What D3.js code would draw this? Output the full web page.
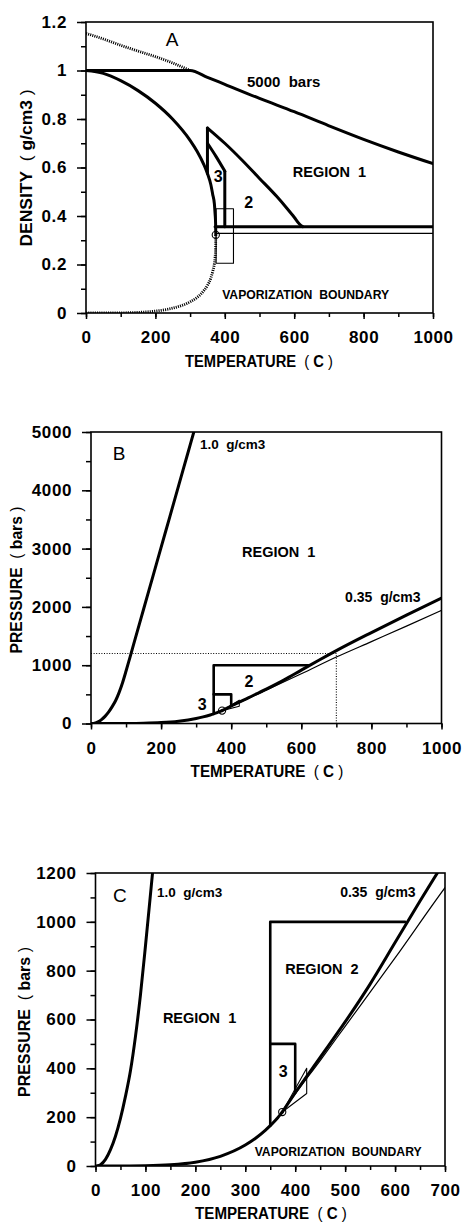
<!DOCTYPE html>
<html>
<head>
<meta charset="utf-8">
<script src="https://cdn.jsdelivr.net/npm/d3@7"></script>
<style>
  body { margin: 0; background: #fff; }
  text { font-family: "Liberation Sans", Arial, sans-serif; font-weight: bold; fill: #000; white-space: pre; }
</style>
</head>
<body>
<svg id="chart" width="463" height="1222"></svg>
<script>
// vaporization boundary of water (liquid / vapour branches)
const satT      = [0, 50, 100, 150, 200, 250, 300, 320, 340, 350, 360, 365, 370, 372, 373.5, 374];
const satLiqRho = [1.000, 0.988, 0.958, 0.917, 0.865, 0.799, 0.712, 0.667, 0.611, 0.575, 0.528, 0.49, 0.45, 0.41, 0.37, 0.322];
const satVapRho = [0.0, 0.0001, 0.0006, 0.0026, 0.0079, 0.020, 0.046, 0.064, 0.093, 0.114, 0.145, 0.17, 0.204, 0.23, 0.27, 0.322];
const satP      = [0, 0.12, 1.0, 4.8, 15.5, 39.7, 85.9, 112.9, 146.1, 165.3, 186.5, 198, 210.4, 215.5, 219.5, 220.6];
const critT = 374, critRho = 0.322, critP = 221;

// 5000 bars isobar (panel A)
const isoLowT   = [0, 50, 100, 150, 200, 250, 300];
const isoLowRho = [1.153, 1.13, 1.104, 1.08, 1.057, 1.031, 1.0];
const isoHiT    = [0, 300, 350, 400, 500, 600, 700, 800, 900, 1000];
const isoHiRho  = [1.0, 1.0, 0.972, 0.943, 0.885, 0.83, 0.772, 0.716, 0.664, 0.616];

// region 2 (1000 bars) and region 3 (500 bars) upper bounds in density space
const reg2T   = [350, 400, 450, 500, 550, 580, 600, 615, 625];
const reg2Rho = [0.763, 0.70, 0.63, 0.555, 0.48, 0.43, 0.395, 0.367, 0.356];
const reg3T   = [350, 375, 400];
const reg3Rho = [0.70, 0.645, 0.585];
const rhoThick = 0.356, rhoThin = 0.328;
const boxT = [375, 425], boxRho = [0.205, 0.43];

// isochores in P-T space
const iso10T  = [4, 10, 20, 30, 40, 50, 60, 70, 80, 90, 100, 110, 125, 150, 175, 200, 225, 250, 275, 300];
const iso10P  = [0, 5, 27, 67, 122, 195, 285, 390, 530, 700, 900, 1110, 1430, 1960, 2490, 3020, 3550, 4080, 4610, 5140];
const iso35T  = [374, 400, 450, 500, 550, 600, 650, 700, 800, 900, 1000];
const iso35P  = [221, 300, 445, 590, 745, 915, 1085, 1250, 1560, 1860, 2150];
const isoCrT  = [374, 400, 450, 500, 600, 700, 800, 900, 1000];
const isoCrP  = [221, 295, 432, 572, 852, 1140, 1405, 1670, 1940];
const reg2P = 1000, reg2Tmin = 350, reg2Tmax = 620;
const reg3P = 500, reg3Tmax = 400, reg3Pbot = 300;
const quadT = [375, 423, 423, 374];
const quadP = [224, 400, 297, 221];
const guideT = 700, guideP = 1200;

// ticks
const tempTicks1000 = [0, 200, 400, 600, 800, 1000];
const tempLabels1000 = ["0", "200", "400", "600", "800", "1000"];
const tempMinor1000 = d3.range(0, 1001, 100);
const rhoTicks = [0, 0.2, 0.4, 0.6, 0.8, 1, 1.2];
const rhoLabels = ["0", "0.2", "0.4", "0.6", "0.8", "1", "1.2"];
const rhoMinor = d3.range(0, 13).map(i => i / 10);
const pTicksB = [0, 1000, 2000, 3000, 4000, 5000];
const pLabelsB = ["0", "1000", "2000", "3000", "4000", "5000"];
const pMinorB = d3.range(0, 5001, 500);
const tempTicks700 = [0, 100, 200, 300, 400, 500, 600, 700];
const tempLabels700 = ["0", "100", "200", "300", "400", "500", "600", "700"];
const tempMinor700 = d3.range(0, 701, 50);
const pTicksC = [0, 200, 400, 600, 800, 1000, 1200];
const pLabelsC = ["0", "200", "400", "600", "800", "1000", "1200"];
const pMinorC = d3.range(0, 1201, 100);

const zip = (a, b) => a.map((v, i) => [v, b[i]]);
const svg = d3.select("#chart");

// axis title squeezed to a given length (the original lettering is condensed)
function title(g, px, py, rotate, length, name, unit) {
  const t = g.append("text").attr("text-anchor", "middle").attr("font-size", 17);
  t.append("tspan").text(name);
  t.append("tspan").style("font-weight", "normal").text("  ( ");
  t.append("tspan").text(unit);
  t.append("tspan").style("font-weight", "normal").text(" )");
  const k = length / t.node().getComputedTextLength();
  t.attr("transform", `translate(${px},${py})${rotate ? " rotate(-90)" : ""} scale(${k},1)`);
}

function axes(g, x, y, o) {
  const [x0, x1] = x.range(), [y0, y1] = y.range();
  const font = a => a.attr("font-size", 17).attr("font-family", null)
    .call(s => s.selectAll("text").attr("letter-spacing", 0.6));
  const style = a => a.call(s => s.select(".domain").remove())
    .call(s => s.selectAll("line").attr("stroke-width", 1.5));

  g.append("g").attr("transform", `translate(0,${y0})`)
    .call(d3.axisBottom(x).tickValues(o.xMinor).tickSize(4).tickFormat(""))
    .call(style);
  g.append("g").attr("transform", `translate(0,${y0})`)
    .call(d3.axisBottom(x).tickValues(o.xTicks).tickSize(6).tickPadding(12)
      .tickFormat((d, i) => o.xLabels[i]))
    .call(style).call(font);
  g.append("g").attr("transform", `translate(${x0},0)`)
    .call(d3.axisLeft(y).tickValues(o.yMinor).tickSize(5).tickFormat(""))
    .call(style);
  g.append("g").attr("transform", `translate(${x0},0)`)
    .call(d3.axisLeft(y).tickValues(o.yTicks).tickSize(9).tickPadding(10)
      .tickFormat((d, i) => o.yLabels[i]))
    .call(style).call(font);

  g.append("rect").attr("x", x0).attr("y", y1).attr("width", x1 - x0).attr("height", y0 - y1)
    .attr("fill", "none").attr("stroke", "#000").attr("stroke-width", 1.6);

  title(g, o.xTitle[0], o.xTitle[1], false, o.xTitle[2], "TEMPERATURE", "C");
  title(g, o.yTitle[0], o.yTitle[1], true, o.yTitle[2], o.yName, o.yUnit);
}

function clipFor(id, x, y) {
  const [x0, x1] = x.range(), [y0, y1] = y.range();
  svg.append("clipPath").attr("id", id).append("rect")
    .attr("x", x0).attr("y", y1).attr("width", x1 - x0).attr("height", y0 - y1);
  return svg.append("g").attr("clip-path", `url(#${id})`);
}

function curve(g, x, y, pts, w, opts = {}) {
  const line = d3.line().x(d => x(d[0])).y(d => y(d[1]))
    .curve(opts.linear ? d3.curveLinear : d3.curveMonotoneX);
  return g.append("path").attr("d", line(pts)).attr("fill", "none")
    .attr("stroke", "#000").attr("stroke-width", w)
    .attr("stroke-linecap", opts.dash ? "butt" : "round")
    .attr("stroke-linejoin", "round")
    .attr("stroke-dasharray", opts.dash || null);
}

function label(g, px, py, txt, size, anchor = "start", weight = "bold") {
  g.append("text").attr("x", px).attr("y", py).attr("font-size", size)
    .attr("text-anchor", anchor).style("font-weight", weight).text(txt);
}

function critCircle(g, cx, cy) {
  g.append("circle").attr("cx", cx).attr("cy", cy).attr("r", 3.6)
    .attr("fill", "none").attr("stroke", "#000").attr("stroke-width", 1.1);
}

// ---------------- panel A : density vs temperature
{
  const x = d3.scaleLinear([0, 1000], [86, 433]);
  const y = d3.scaleLinear([0, 1.2], [313, 22]);
  const g = clipFor("clipA", x, y);

  curve(g, x, y, zip(isoLowT, isoLowRho), 2.8, { dash: "1.1,1.1" });
  curve(g, x, y, zip(satT, satVapRho), 2.8, { dash: "1.1,1.1" });
  curve(g, x, y, zip(isoHiT, isoHiRho), 3);
  curve(g, x, y, zip(satT, satLiqRho), 3);

  curve(g, x, y, zip(reg2T, reg2Rho), 3);
  curve(g, x, y, zip(reg3T, reg3Rho), 3);
  curve(g, x, y, [[350, satLiqRho[satT.indexOf(350)]], [350, reg2Rho[0]]], 3, { linear: true });
  curve(g, x, y, [[reg3T[2], reg3Rho[2]], [reg3T[2], rhoThick]], 3, { linear: true });
  curve(g, x, y, [[372, rhoThick], [1000, rhoThick]], 3, { linear: true });
  curve(g, x, y, [[critT, rhoThin], [1000, rhoThin]], 1.2, { linear: true });
  curve(g, x, y, [[boxT[0], boxRho[0]], [boxT[1], boxRho[0]], [boxT[1], boxRho[1]],
                  [boxT[0], boxRho[1]], [boxT[0], boxRho[0]]], 1.1, { linear: true });
  critCircle(g, x(critT), y(critRho));

  const t = svg.append("g");
  axes(t, x, y, {
    xTicks: tempTicks1000, xLabels: tempLabels1000, xMinor: tempMinor1000,
    yTicks: rhoTicks, yLabels: rhoLabels, yMinor: rhoMinor,
    xTitle: [259, 367, 148], yTitle: [31.5, 168, 157], yName: "DENSITY", yUnit: "g/cm3"
  });
  label(t, x(248), y(1.10), "A", 19, "middle", "normal");
  label(t, x(464), y(0.932), "5000  bars", 15);
  label(t, x(596), y(0.561), "REGION  1", 14.5);
  label(t, x(381), y(0.541), "3", 16, "middle");
  label(t, x(469), y(0.432), "2", 16, "middle");
  label(t, x(633), y(0.056), "VAPORIZATION  BOUNDARY", 12.2, "middle");
}

// ---------------- panel B : pressure vs temperature (0-1000 C)
{
  const x = d3.scaleLinear([0, 1000], [91, 441.5]);
  const y = d3.scaleLinear([0, 5000], [723.5, 432]);
  const g = clipFor("clipB", x, y);

  curve(g, x, y, [[0, guideP], [guideT, guideP], [guideT, 0]], 1.1, { linear: true, dash: "1,1.6" });
  curve(g, x, y, zip(iso10T, iso10P), 3);
  curve(g, x, y, zip(satT, satP), 3);
  curve(g, x, y, zip(iso35T, iso35P), 3);
  curve(g, x, y, zip(isoCrT, isoCrP), 1.2);
  curve(g, x, y, [[reg2Tmin, satP[satT.indexOf(350)]], [reg2Tmin, reg2P], [reg2Tmax, reg2P]], 2.6, { linear: true });
  curve(g, x, y, [[reg2Tmin, reg3P], [reg3Tmax, reg3P], [reg3Tmax, reg3Pbot]], 2.6, { linear: true });
  curve(g, x, y, zip(quadT, quadP), 1.1, { linear: true });
  critCircle(g, x(critT), y(critP));

  const t = svg.append("g");
  axes(t, x, y, {
    xTicks: tempTicks1000, xLabels: tempLabels1000, xMinor: tempMinor1000,
    yTicks: pTicksB, yLabels: pLabelsB, yMinor: pMinorB,
    xTitle: [267, 777, 153], yTitle: [22, 580, 147], yName: "PRESSURE", yUnit: "bars"
  });
  label(t, x(80), y(4520), "B", 19, "middle", "normal");
  label(t, x(311), y(4700), "1.0  g/cm3", 13.5);
  label(t, x(431), y(2860), "REGION  1", 14.5);
  label(t, x(725), y(2090), "0.35  g/cm3", 14);
  label(t, x(451), y(630), "2", 16, "middle");
  label(t, x(317), y(230), "3", 16, "middle");
}

// ---------------- panel C : pressure vs temperature (0-700 C)
{
  const x = d3.scaleLinear([0, 700], [95.5, 445]);
  const y = d3.scaleLinear([0, 1200], [1166, 873]);
  const g = clipFor("clipC", x, y);

  curve(g, x, y, zip(iso10T, iso10P), 3);
  curve(g, x, y, zip(satT, satP), 3);
  curve(g, x, y, zip(iso35T, iso35P), 3);
  curve(g, x, y, zip(isoCrT, isoCrP), 1.2);
  curve(g, x, y, [[reg2Tmin, satP[satT.indexOf(350)]], [reg2Tmin, reg2P], [reg2Tmax, reg2P]], 2.6, { linear: true });
  curve(g, x, y, [[reg2Tmin, reg3P], [reg3Tmax, reg3P], [reg3Tmax, reg3Pbot]], 2.6, { linear: true });
  curve(g, x, y, zip(quadT, quadP), 1.1, { linear: true });
  critCircle(g, x(critT), y(critP));

  const t = svg.append("g");
  axes(t, x, y, {
    xTicks: tempTicks700, xLabels: tempLabels700, xMinor: tempMinor700,
    yTicks: pTicksC, yLabels: pLabelsC, yMinor: pMinorC,
    xTitle: [271, 1219, 152], yTitle: [30, 1022, 150], yName: "PRESSURE", yUnit: "bars"
  });
  label(t, x(49), y(1080), "C", 19, "middle", "normal");
  label(t, x(123), y(1100), "1.0  g/cm3", 13.5);
  label(t, x(490), y(1100), "0.35  g/cm3", 14);
  label(t, x(380), y(788), "REGION  2", 14.5);
  label(t, x(135), y(584), "REGION  1", 14.5);
  label(t, x(376), y(365), "3", 16, "middle");
  label(t, x(486), y(41), "VAPORIZATION  BOUNDARY", 12.2, "middle");
}
</script>
</body>
</html>
